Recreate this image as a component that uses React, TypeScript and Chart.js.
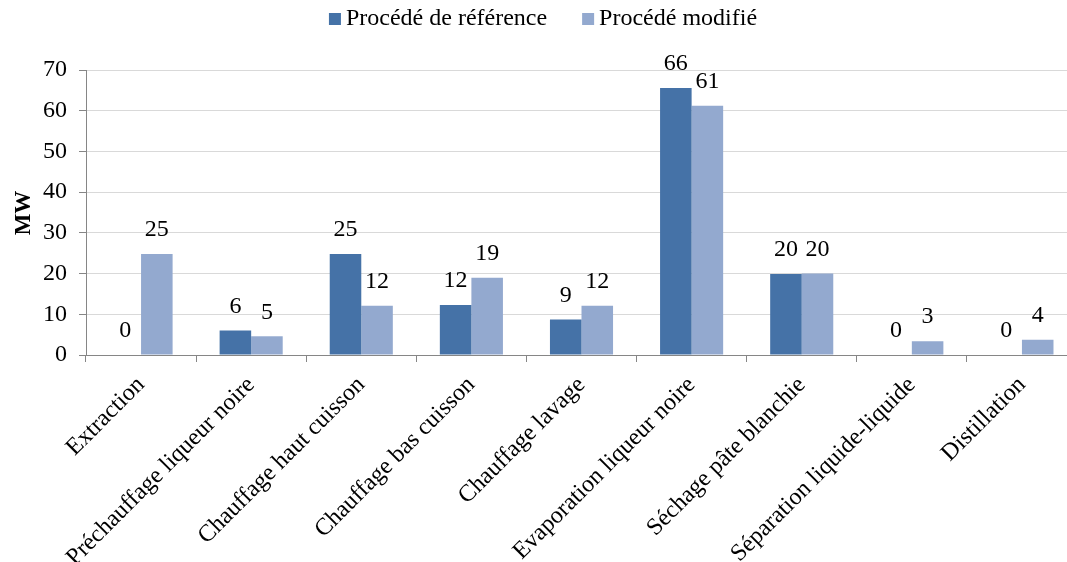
import React, { useEffect, useRef } from "react";
import { Chart, registerables } from "chart.js";

Chart.register(...registerables);

const FONT = "'Liberation Serif', 'Times New Roman', serif";

const categories = [
  "Extraction",
  "Préchauffage liqueur noire",
  "Chauffage haut cuisson",
  "Chauffage bas cuisson",
  "Chauffage lavage",
  "Evaporation liqueur noire",
  "Séchage pâte blanchie",
  "Séparation liquide-liquide",
  "Distillation",
];

const seriesNames = ["Procédé de référence", "Procédé modifié"];
const refValues = [0, 6.0, 24.8, 12.3, 8.7, 65.6, 19.9, 0, 0];
const modValues = [24.8, 4.6, 12.1, 19.0, 12.1, 61.2, 20.0, 3.4, 3.75];
const yMin = 0;
const yMax = 70;
const yStep = 10;

const REF_COLOR = "#4572A7";
const MOD_COLOR = "#93A9CF";

const labelPlugin = {
  id: "valueLabels",
  afterDatasetsDraw(chart: any) {
    const ctx = chart.ctx;
    ctx.save();
    ctx.font = `24px ${FONT}`;
    ctx.fillStyle = "#000";
    ctx.textAlign = "center";
    ctx.textBaseline = "middle";
    chart.data.datasets.forEach((ds: any, i: number) => {
      const meta = chart.getDatasetMeta(i);
      meta.data.forEach((el: any, j: number) => {
        const v = ds.data[j];
        ctx.fillText(String(Math.round(v)), el.x, el.y - 24);
      });
    });
    ctx.restore();
  },
};

const legendPlugin = {
  id: "customLegend",
  afterDraw(chart: any) {
    const ctx = chart.ctx;
    ctx.save();
    ctx.font = `24px ${FONT}`;
    const box = 12;
    const gapText = 5;
    const gapItem = 35;
    const colors = [REF_COLOR, MOD_COLOR];
    const widths = seriesNames.map((n) => box + gapText + ctx.measureText(n).width);
    const total = widths.reduce((a, b) => a + b, 0) + gapItem * (widths.length - 1);
    let x = 543 - total / 2;
    const yc = 19;
    seriesNames.forEach((n, i) => {
      ctx.fillStyle = colors[i];
      ctx.fillRect(x, yc - box / 2, box, box);
      ctx.fillStyle = "#000";
      ctx.textAlign = "left";
      ctx.textBaseline = "middle";
      ctx.fillText(n, x + box + gapText, yc);
      x += widths[i] + gapItem;
    });
    // y-axis title
    ctx.translate(24, 213);
    ctx.rotate(-Math.PI / 2);
    ctx.font = `bold 23px ${FONT}`;
    ctx.textAlign = "center";
    ctx.textBaseline = "middle";
    ctx.fillStyle = "#000";
    ctx.fillText("MW", 0, 0);
    ctx.restore();
  },
};

export default function App() {
  const ref = useRef<HTMLCanvasElement>(null);
  useEffect(() => {
    const chart = new Chart(ref.current!, {
      type: "bar",
      data: {
        labels: categories,
        datasets: [
          {
            label: seriesNames[0],
            data: refValues,
            backgroundColor: REF_COLOR,
            categoryPercentage: 0.573,
            barPercentage: 1,
          },
          {
            label: seriesNames[1],
            data: modValues,
            backgroundColor: MOD_COLOR,
            categoryPercentage: 0.573,
            barPercentage: 1,
          },
        ],
      },
      options: {
        responsive: false,
        animation: false,
        layout: { padding: { top: 70, right: 8, left: 0, bottom: 0 } },
        plugins: { legend: { display: false }, tooltip: { enabled: false } },
        scales: {
          x: {
            offset: true,
            grid: {
              offset: true,
              drawOnChartArea: false,
              drawTicks: true,
              tickLength: 7,
              color: "#868686",
            },
            border: { color: "#868686" },
            ticks: {
              maxRotation: 45,
              minRotation: 45,
              autoSkip: false,
              font: { family: FONT, size: 24 },
              color: "#000",
              padding: 9,
            },
            afterFit: (s: any) => {
              s.height = 207;
            },
          },
          y: {
            min: yMin,
            max: yMax,
            ticks: {
              stepSize: yStep,
              font: { family: FONT, size: 24 },
              color: "#000",
              padding: 12,
            },
            grid: { color: "#d9d9d9", tickColor: "#868686", tickLength: 7 },
            border: { color: "#868686" },
            afterFit: (s: any) => {
              s.width = 86;
            },
          },
        },
      },
      plugins: [labelPlugin, legendPlugin],
    });
    return () => chart.destroy();
  }, []);
  return (
    <div
      style={{
        position: "fixed",
        left: 0,
        top: 0,
        width: 1067,
        height: 562,
        overflow: "hidden",
        background: "#fff",
      }}
    >
      <canvas ref={ref} width={1085} height={562} />
    </div>
  );
}
